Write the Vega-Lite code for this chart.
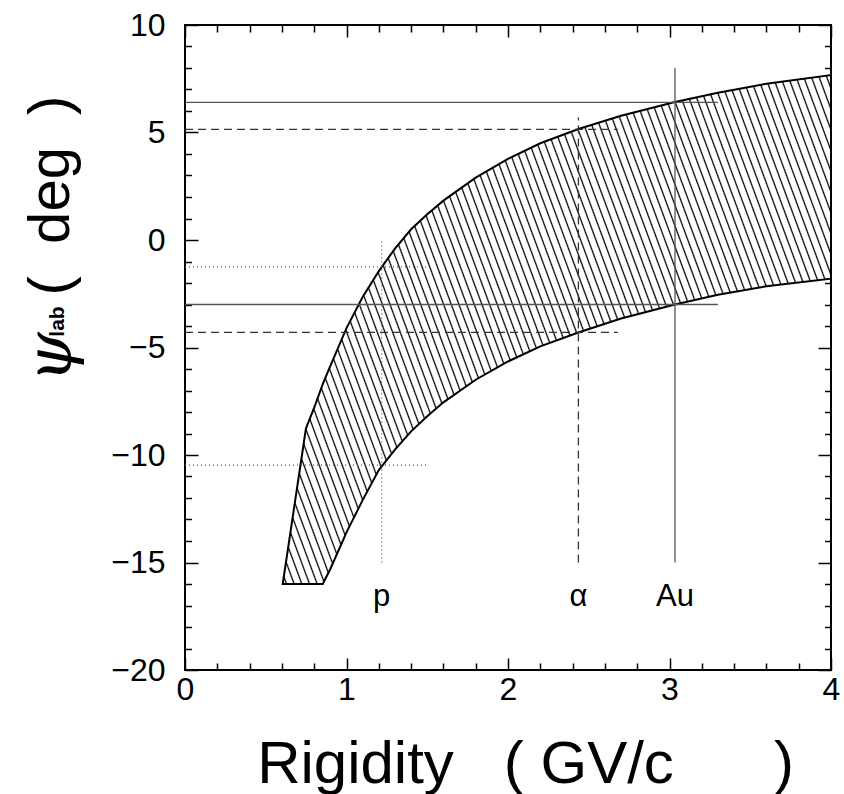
{
  "$schema": "https://vega.github.io/schema/vega-lite/v6.json",
  "width": 646,
  "height": 645,
  "autosize": "none",
  "padding": {"left": 185, "top": 25, "right": 13, "bottom": 124},
  "background": "white",
  "config": {
    "view": {"stroke": "black", "strokeWidth": 2},
    "axis": {"grid": false, "domain": false, "labelFont": "Liberation Sans", "titleFont": "Liberation Sans", "labelColor": "black", "titleColor": "black", "tickColor": "black", "titleFontWeight": "normal"}
  },
  "datasets": {
    "band": [
      {"R": 0.605, "lo": -16, "hi": -16},
      {"R": 0.749, "lo": -16, "hi": -8.76},
      {"R": 0.8, "lo": -16, "hi": -7.8},
      {"R": 0.853, "lo": -16, "hi": -6.7},
      {"R": 0.9, "lo": -15.3, "hi": -5.85},
      {"R": 1.0, "lo": -13.6, "hi": -4.1},
      {"R": 1.1, "lo": -12.1, "hi": -2.65},
      {"R": 1.2, "lo": -10.7, "hi": -1.45},
      {"R": 1.3, "lo": -9.75, "hi": -0.4},
      {"R": 1.4, "lo": -8.9, "hi": 0.5},
      {"R": 1.5, "lo": -8.2, "hi": 1.2},
      {"R": 1.6, "lo": -7.55, "hi": 1.83},
      {"R": 1.8, "lo": -6.5, "hi": 2.9},
      {"R": 2.0, "lo": -5.65, "hi": 3.77},
      {"R": 2.2, "lo": -4.95, "hi": 4.5},
      {"R": 2.436, "lo": -4.3, "hi": 5.16},
      {"R": 2.7, "lo": -3.65, "hi": 5.78},
      {"R": 3.034, "lo": -3.0, "hi": 6.42},
      {"R": 3.3, "lo": -2.55, "hi": 6.85},
      {"R": 3.6, "lo": -2.15, "hi": 7.27},
      {"R": 4.0, "lo": -1.8, "hi": 7.67}
    ],
    "solid": [
      {"x1": 0, "x2": 3.3, "y1": 6.4, "y2": 6.4},
      {"x1": 0, "x2": 3.3, "y1": -3.0, "y2": -3.0},
      {"x1": 3.034, "x2": 3.034, "y1": -15, "y2": 8}
    ],
    "dashed": [
      {"x1": 0, "x2": 2.68, "y1": 5.15, "y2": 5.15},
      {"x1": 0, "x2": 2.68, "y1": -4.3, "y2": -4.3},
      {"x1": 2.436, "x2": 2.436, "y1": -15, "y2": 5.7}
    ],
    "dotted": [
      {"x1": 0, "x2": 1.5, "y1": -1.25, "y2": -1.25},
      {"x1": 0, "x2": 1.5, "y1": -10.47, "y2": -10.47},
      {"x1": 1.218, "x2": 1.218, "y1": -15, "y2": 0}
    ],
    "labels": [
      {"x": 1.218, "y": -17.0, "t": "p"},
      {"x": 2.436, "y": -17.0, "t": "α"},
      {"x": 3.034, "y": -17.0, "t": "Au"}
    ]
  },
  "layer": [
    {
      "data": {"name": "band"},
      "mark": {
        "type": "area",
        "stroke": "black",
        "strokeWidth": 2,
        "fill": {
          "gradient": "linear", "x1": 0, "y1": 1, "x2": 1.2017, "y2": 0.5878,
          "stops": [
            {"offset":0.0034,"color":"#fff"},{"offset":0.0052,"color":"#000"},{"offset":0.0070,"color":"#fff"},
            {"offset":0.0138,"color":"#fff"},{"offset":0.0156,"color":"#000"},{"offset":0.0174,"color":"#fff"},
            {"offset":0.0242,"color":"#fff"},{"offset":0.0260,"color":"#000"},{"offset":0.0278,"color":"#fff"},
            {"offset":0.0346,"color":"#fff"},{"offset":0.0364,"color":"#000"},{"offset":0.0382,"color":"#fff"},
            {"offset":0.0450,"color":"#fff"},{"offset":0.0468,"color":"#000"},{"offset":0.0486,"color":"#fff"},
            {"offset":0.0554,"color":"#fff"},{"offset":0.0572,"color":"#000"},{"offset":0.0590,"color":"#fff"},
            {"offset":0.0658,"color":"#fff"},{"offset":0.0676,"color":"#000"},{"offset":0.0694,"color":"#fff"},
            {"offset":0.0762,"color":"#fff"},{"offset":0.0780,"color":"#000"},{"offset":0.0798,"color":"#fff"},
            {"offset":0.0866,"color":"#fff"},{"offset":0.0884,"color":"#000"},{"offset":0.0902,"color":"#fff"},
            {"offset":0.0970,"color":"#fff"},{"offset":0.0988,"color":"#000"},{"offset":0.1006,"color":"#fff"},
            {"offset":0.1074,"color":"#fff"},{"offset":0.1092,"color":"#000"},{"offset":0.1110,"color":"#fff"},
            {"offset":0.1178,"color":"#fff"},{"offset":0.1196,"color":"#000"},{"offset":0.1214,"color":"#fff"},
            {"offset":0.1282,"color":"#fff"},{"offset":0.1300,"color":"#000"},{"offset":0.1318,"color":"#fff"},
            {"offset":0.1386,"color":"#fff"},{"offset":0.1404,"color":"#000"},{"offset":0.1422,"color":"#fff"},
            {"offset":0.1490,"color":"#fff"},{"offset":0.1508,"color":"#000"},{"offset":0.1526,"color":"#fff"},
            {"offset":0.1594,"color":"#fff"},{"offset":0.1612,"color":"#000"},{"offset":0.1630,"color":"#fff"},
            {"offset":0.1698,"color":"#fff"},{"offset":0.1716,"color":"#000"},{"offset":0.1734,"color":"#fff"},
            {"offset":0.1802,"color":"#fff"},{"offset":0.1820,"color":"#000"},{"offset":0.1838,"color":"#fff"},
            {"offset":0.1906,"color":"#fff"},{"offset":0.1924,"color":"#000"},{"offset":0.1942,"color":"#fff"},
            {"offset":0.2010,"color":"#fff"},{"offset":0.2028,"color":"#000"},{"offset":0.2046,"color":"#fff"},
            {"offset":0.2114,"color":"#fff"},{"offset":0.2132,"color":"#000"},{"offset":0.2150,"color":"#fff"},
            {"offset":0.2218,"color":"#fff"},{"offset":0.2236,"color":"#000"},{"offset":0.2254,"color":"#fff"},
            {"offset":0.2322,"color":"#fff"},{"offset":0.2340,"color":"#000"},{"offset":0.2358,"color":"#fff"},
            {"offset":0.2426,"color":"#fff"},{"offset":0.2444,"color":"#000"},{"offset":0.2462,"color":"#fff"},
            {"offset":0.2530,"color":"#fff"},{"offset":0.2548,"color":"#000"},{"offset":0.2566,"color":"#fff"},
            {"offset":0.2634,"color":"#fff"},{"offset":0.2652,"color":"#000"},{"offset":0.2670,"color":"#fff"},
            {"offset":0.2738,"color":"#fff"},{"offset":0.2756,"color":"#000"},{"offset":0.2774,"color":"#fff"},
            {"offset":0.2842,"color":"#fff"},{"offset":0.2860,"color":"#000"},{"offset":0.2878,"color":"#fff"},
            {"offset":0.2946,"color":"#fff"},{"offset":0.2964,"color":"#000"},{"offset":0.2982,"color":"#fff"},
            {"offset":0.3050,"color":"#fff"},{"offset":0.3068,"color":"#000"},{"offset":0.3086,"color":"#fff"},
            {"offset":0.3154,"color":"#fff"},{"offset":0.3172,"color":"#000"},{"offset":0.3190,"color":"#fff"},
            {"offset":0.3258,"color":"#fff"},{"offset":0.3276,"color":"#000"},{"offset":0.3294,"color":"#fff"},
            {"offset":0.3362,"color":"#fff"},{"offset":0.3380,"color":"#000"},{"offset":0.3398,"color":"#fff"},
            {"offset":0.3466,"color":"#fff"},{"offset":0.3484,"color":"#000"},{"offset":0.3502,"color":"#fff"},
            {"offset":0.3570,"color":"#fff"},{"offset":0.3588,"color":"#000"},{"offset":0.3606,"color":"#fff"},
            {"offset":0.3674,"color":"#fff"},{"offset":0.3692,"color":"#000"},{"offset":0.3710,"color":"#fff"},
            {"offset":0.3778,"color":"#fff"},{"offset":0.3796,"color":"#000"},{"offset":0.3814,"color":"#fff"},
            {"offset":0.3882,"color":"#fff"},{"offset":0.3900,"color":"#000"},{"offset":0.3918,"color":"#fff"},
            {"offset":0.3986,"color":"#fff"},{"offset":0.4004,"color":"#000"},{"offset":0.4022,"color":"#fff"},
            {"offset":0.4090,"color":"#fff"},{"offset":0.4108,"color":"#000"},{"offset":0.4126,"color":"#fff"},
            {"offset":0.4194,"color":"#fff"},{"offset":0.4212,"color":"#000"},{"offset":0.4230,"color":"#fff"},
            {"offset":0.4298,"color":"#fff"},{"offset":0.4316,"color":"#000"},{"offset":0.4334,"color":"#fff"},
            {"offset":0.4402,"color":"#fff"},{"offset":0.4420,"color":"#000"},{"offset":0.4438,"color":"#fff"},
            {"offset":0.4506,"color":"#fff"},{"offset":0.4524,"color":"#000"},{"offset":0.4542,"color":"#fff"},
            {"offset":0.4610,"color":"#fff"},{"offset":0.4628,"color":"#000"},{"offset":0.4646,"color":"#fff"},
            {"offset":0.4714,"color":"#fff"},{"offset":0.4732,"color":"#000"},{"offset":0.4750,"color":"#fff"},
            {"offset":0.4818,"color":"#fff"},{"offset":0.4836,"color":"#000"},{"offset":0.4854,"color":"#fff"},
            {"offset":0.4922,"color":"#fff"},{"offset":0.4940,"color":"#000"},{"offset":0.4958,"color":"#fff"},
            {"offset":0.5026,"color":"#fff"},{"offset":0.5044,"color":"#000"},{"offset":0.5062,"color":"#fff"},
            {"offset":0.5130,"color":"#fff"},{"offset":0.5148,"color":"#000"},{"offset":0.5166,"color":"#fff"},
            {"offset":0.5234,"color":"#fff"},{"offset":0.5252,"color":"#000"},{"offset":0.5270,"color":"#fff"},
            {"offset":0.5338,"color":"#fff"},{"offset":0.5356,"color":"#000"},{"offset":0.5374,"color":"#fff"},
            {"offset":0.5442,"color":"#fff"},{"offset":0.5460,"color":"#000"},{"offset":0.5478,"color":"#fff"},
            {"offset":0.5546,"color":"#fff"},{"offset":0.5564,"color":"#000"},{"offset":0.5582,"color":"#fff"},
            {"offset":0.5650,"color":"#fff"},{"offset":0.5668,"color":"#000"},{"offset":0.5686,"color":"#fff"},
            {"offset":0.5754,"color":"#fff"},{"offset":0.5772,"color":"#000"},{"offset":0.5790,"color":"#fff"},
            {"offset":0.5858,"color":"#fff"},{"offset":0.5876,"color":"#000"},{"offset":0.5894,"color":"#fff"},
            {"offset":0.5962,"color":"#fff"},{"offset":0.5980,"color":"#000"},{"offset":0.5998,"color":"#fff"},
            {"offset":0.6066,"color":"#fff"},{"offset":0.6084,"color":"#000"},{"offset":0.6102,"color":"#fff"},
            {"offset":0.6170,"color":"#fff"},{"offset":0.6188,"color":"#000"},{"offset":0.6206,"color":"#fff"},
            {"offset":0.6274,"color":"#fff"},{"offset":0.6292,"color":"#000"},{"offset":0.6310,"color":"#fff"},
            {"offset":0.6378,"color":"#fff"},{"offset":0.6396,"color":"#000"},{"offset":0.6414,"color":"#fff"},
            {"offset":0.6482,"color":"#fff"},{"offset":0.6500,"color":"#000"},{"offset":0.6518,"color":"#fff"},
            {"offset":0.6586,"color":"#fff"},{"offset":0.6604,"color":"#000"},{"offset":0.6622,"color":"#fff"},
            {"offset":0.6690,"color":"#fff"},{"offset":0.6708,"color":"#000"},{"offset":0.6726,"color":"#fff"},
            {"offset":0.6794,"color":"#fff"},{"offset":0.6812,"color":"#000"},{"offset":0.6830,"color":"#fff"},
            {"offset":0.6898,"color":"#fff"},{"offset":0.6916,"color":"#000"},{"offset":0.6934,"color":"#fff"},
            {"offset":0.7002,"color":"#fff"},{"offset":0.7020,"color":"#000"},{"offset":0.7038,"color":"#fff"},
            {"offset":0.7106,"color":"#fff"},{"offset":0.7124,"color":"#000"},{"offset":0.7142,"color":"#fff"},
            {"offset":0.7210,"color":"#fff"},{"offset":0.7228,"color":"#000"},{"offset":0.7246,"color":"#fff"},
            {"offset":0.7314,"color":"#fff"},{"offset":0.7332,"color":"#000"},{"offset":0.7350,"color":"#fff"},
            {"offset":0.7418,"color":"#fff"},{"offset":0.7436,"color":"#000"},{"offset":0.7454,"color":"#fff"},
            {"offset":0.7522,"color":"#fff"},{"offset":0.7540,"color":"#000"},{"offset":0.7558,"color":"#fff"},
            {"offset":0.7626,"color":"#fff"},{"offset":0.7644,"color":"#000"},{"offset":0.7662,"color":"#fff"},
            {"offset":0.7730,"color":"#fff"},{"offset":0.7748,"color":"#000"},{"offset":0.7766,"color":"#fff"},
            {"offset":0.7834,"color":"#fff"},{"offset":0.7852,"color":"#000"},{"offset":0.7870,"color":"#fff"},
            {"offset":0.7938,"color":"#fff"},{"offset":0.7956,"color":"#000"},{"offset":0.7974,"color":"#fff"},
            {"offset":0.8042,"color":"#fff"},{"offset":0.8060,"color":"#000"},{"offset":0.8078,"color":"#fff"},
            {"offset":0.8146,"color":"#fff"},{"offset":0.8164,"color":"#000"},{"offset":0.8182,"color":"#fff"},
            {"offset":0.8250,"color":"#fff"},{"offset":0.8268,"color":"#000"},{"offset":0.8286,"color":"#fff"},
            {"offset":0.8354,"color":"#fff"},{"offset":0.8372,"color":"#000"},{"offset":0.8390,"color":"#fff"},
            {"offset":0.8458,"color":"#fff"},{"offset":0.8476,"color":"#000"},{"offset":0.8494,"color":"#fff"},
            {"offset":0.8562,"color":"#fff"},{"offset":0.8580,"color":"#000"},{"offset":0.8598,"color":"#fff"},
            {"offset":0.8666,"color":"#fff"},{"offset":0.8684,"color":"#000"},{"offset":0.8702,"color":"#fff"},
            {"offset":0.8770,"color":"#fff"},{"offset":0.8788,"color":"#000"},{"offset":0.8806,"color":"#fff"},
            {"offset":0.8874,"color":"#fff"},{"offset":0.8892,"color":"#000"},{"offset":0.8910,"color":"#fff"},
            {"offset":0.8978,"color":"#fff"},{"offset":0.8996,"color":"#000"},{"offset":0.9014,"color":"#fff"},
            {"offset":0.9082,"color":"#fff"},{"offset":0.9100,"color":"#000"},{"offset":0.9118,"color":"#fff"},
            {"offset":0.9186,"color":"#fff"},{"offset":0.9204,"color":"#000"},{"offset":0.9222,"color":"#fff"},
            {"offset":0.9290,"color":"#fff"},{"offset":0.9308,"color":"#000"},{"offset":0.9326,"color":"#fff"},
            {"offset":0.9394,"color":"#fff"},{"offset":0.9412,"color":"#000"},{"offset":0.9430,"color":"#fff"},
            {"offset":0.9498,"color":"#fff"},{"offset":0.9516,"color":"#000"},{"offset":0.9534,"color":"#fff"},
            {"offset":0.9602,"color":"#fff"},{"offset":0.9620,"color":"#000"},{"offset":0.9638,"color":"#fff"},
            {"offset":0.9706,"color":"#fff"},{"offset":0.9724,"color":"#000"},{"offset":0.9742,"color":"#fff"},
            {"offset":0.9810,"color":"#fff"},{"offset":0.9828,"color":"#000"},{"offset":0.9846,"color":"#fff"},
            {"offset":0.9914,"color":"#fff"},{"offset":0.9932,"color":"#000"},{"offset":0.9950,"color":"#fff"}
          ]
        }
      },
      "encoding": {
        "x": {
          "field": "R", "type": "quantitative",
          "scale": {"domain": [0, 4], "nice": false, "zero": false},
          "axis": {
            "orient": "bottom",
            "values": [0,0.2,0.4,0.6,0.8,1,1.2,1.4,1.6,1.8,2,2.2,2.4,2.6,2.8,3,3.2,3.4,3.6,3.8,4],
            "tickSize": {"condition": {"test": "datum.value % 1 === 0", "value": -12}, "value": -7},
            "tickWidth": 1.5,
            "labelExpr": "datum.value % 1 === 0 ? format(datum.value, 'd') : ''",
            "labelFontSize": 32,
            "labelPadding": 16,
            "labelOverlap": false,
            "labelFlush": false,
            "labelBound": false,
            "title": "Rigidity\u00a0\u00a0\u00a0(\u00a0GV/c\u00a0\u00a0\u00a0\u00a0\u00a0\u00a0)",
            "titleFontSize": 60,
            "titleX": 340,
            "titleY": 112,
            "titleAlign": "center",
            "titleBaseline": "alphabetic"
          }
        },
        "y": {
          "field": "lo", "type": "quantitative",
          "scale": {"domain": [-20, 10], "nice": false, "zero": false},
          "axis": {
            "orient": "left",
            "values": [-20,-19,-18,-17,-16,-15,-14,-13,-12,-11,-10,-9,-8,-7,-6,-5,-4,-3,-2,-1,0,1,2,3,4,5,6,7,8,9,10],
            "tickSize": {"condition": {"test": "datum.value % 5 === 0", "value": -13}, "value": -6.5},
            "tickWidth": 1.5,
            "labelExpr": "datum.value % 5 === 0 ? datum.label : ''",
            "labelFontSize": 32,
            "labelPadding": 33,
            "labelOverlap": false,
            "labelFlush": false,
            "title": "(\u00a0\u00a0deg\u00a0\u00a0)",
            "titleFontSize": 58,
            "titleAngle": -90,
            "titleX": -117,
            "titleY": 170,
            "titleAlign": "center",
            "titleBaseline": "alphabetic"
          }
        },
        "y2": {"field": "hi"}
      }
    },
    {
      "data": {"name": "solid"},
      "mark": {"type": "rule", "color": "#555", "strokeWidth": 1.3},
      "encoding": {
        "x": {
          "field": "x1", "type": "quantitative",
          "axis": {
            "orient": "top",
            "values": [0,0.2,0.4,0.6,0.8,1,1.2,1.4,1.6,1.8,2,2.2,2.4,2.6,2.8,3,3.2,3.4,3.6,3.8,4],
            "tickSize": {"condition": {"test": "datum.value % 1 === 0", "value": -12}, "value": -7},
            "tickWidth": 1.5,
            "labels": false,
            "title": null
          }
        },
        "x2": {"field": "x2"},
        "y": {
          "field": "y1", "type": "quantitative",
          "axis": {
            "orient": "right",
            "values": [-20,-19,-18,-17,-16,-15,-14,-13,-12,-11,-10,-9,-8,-7,-6,-5,-4,-3,-2,-1,0,1,2,3,4,5,6,7,8,9,10],
            "tickSize": {"condition": {"test": "datum.value % 5 === 0", "value": -13}, "value": -6.5},
            "tickWidth": 1.5,
            "labels": false,
            "title": null
          }
        },
        "y2": {"field": "y2"}
      }
    },
    {
      "data": {"name": "dashed"},
      "mark": {"type": "rule", "color": "#333", "strokeWidth": 1.3, "strokeDash": [8, 5]},
      "encoding": {
        "x": {"field": "x1", "type": "quantitative", "axis": null},
        "x2": {"field": "x2"},
        "y": {
          "field": "y1", "type": "quantitative",
          "axis": {
            "orient": "left", "ticks": false, "labels": false, "domain": false,
            "title": "lab", "titleFontSize": 21, "titleFontWeight": "bold",
            "titleAngle": -90, "titleX": -122, "titleY": 296,
            "titleAlign": "center", "titleBaseline": "alphabetic"
          }
        },
        "y2": {"field": "y2"}
      }
    },
    {
      "data": {"name": "dotted"},
      "mark": {"type": "rule", "color": "#555", "strokeWidth": 1.2, "strokeDash": [1, 3]},
      "encoding": {
        "x": {"field": "x1", "type": "quantitative", "axis": null},
        "x2": {"field": "x2"},
        "y": {
          "field": "y1", "type": "quantitative",
          "axis": {
            "orient": "left", "ticks": false, "labels": false, "domain": false,
            "title": "ψ", "titleFont": "DejaVu Serif", "titleFontStyle": "italic", "titleFontSize": 64,
            "titleAngle": -90, "titleX": -115, "titleY": 332,
            "titleAlign": "center", "titleBaseline": "alphabetic"
          }
        },
        "y2": {"field": "y2"}
      }
    },
    {
      "data": {"name": "labels"},
      "mark": {"type": "text", "font": "Liberation Sans", "fontSize": 31, "color": "black", "baseline": "alphabetic", "align": "center"},
      "encoding": {
        "x": {"field": "x", "type": "quantitative", "axis": null},
        "y": {"field": "y", "type": "quantitative", "axis": null},
        "text": {"field": "t"}
      }
    }
  ],
  "resolve": {"axis": {"x": "independent", "y": "independent"}}
}
